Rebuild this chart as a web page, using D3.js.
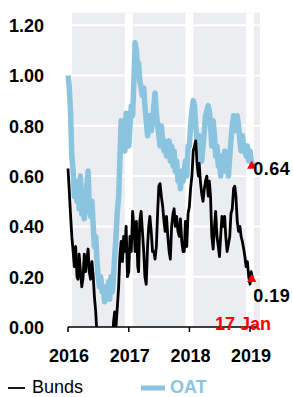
<!doctype html>
<html>

<head>
  <meta charset="utf-8">
  <title>Bunds vs OAT</title>
  <style>
    html,
    body {
      margin: 0;
      padding: 0;
      background: #fff;
    }

    #chart svg {
      display: block;
      font-family: "Liberation Sans", Arial, sans-serif;
    }
  </style>
</head>

<body>
  <div id="chart"></div>
  <script src="https://d3js.org/d3.v7.min.js"></script>
  <script>
    // observation days in each month, last one is 17 Jan 2019
    const obsDays = [1, 8, 16, 24];
    const lastDays = [1, 8, 17];

    // 10y yields, 4 readings per month, Jan 2016 .. Dec 2018, then Jan 2019
    const bunds = [
      0.63, 0.55, 0.45, 0.36, 0.30, 0.24, 0.32, 0.20, 0.19, 0.29, 0.22, 0.16,
      0.20, 0.29, 0.22, 0.27, 0.31, 0.22, 0.19, 0.26, 0.20, 0.12, 0.06, -0.04,
      -0.10, -0.15, -0.05, -0.12, -0.08, -0.12, -0.06, -0.10, -0.06, -0.10, -0.02, -0.08,
      0.02, 0.06, 0.00, 0.08, 0.16, 0.28, 0.34, 0.26, 0.36, 0.30, 0.40, 0.20,
      0.22, 0.36, 0.30, 0.46, 0.40, 0.30, 0.42, 0.24, 0.22, 0.42, 0.46, 0.38,
      0.30, 0.20, 0.17, 0.32, 0.40, 0.44, 0.38, 0.30, 0.30, 0.27, 0.32, 0.46,
      0.56, 0.57, 0.52, 0.48, 0.42, 0.38, 0.44, 0.36, 0.30, 0.27, 0.40, 0.45,
      0.47, 0.40, 0.44, 0.38, 0.36, 0.43, 0.34, 0.30, 0.30, 0.42, 0.32, 0.45,
      0.48, 0.55, 0.60, 0.70, 0.72, 0.74, 0.65, 0.60, 0.65, 0.58, 0.53, 0.50,
      0.55, 0.58, 0.60, 0.52, 0.58, 0.52, 0.36, 0.31, 0.40, 0.46, 0.36, 0.32,
      0.28, 0.36, 0.44, 0.40, 0.44, 0.36, 0.30, 0.33, 0.36, 0.45, 0.47, 0.55,
      0.56, 0.52, 0.42, 0.38, 0.40, 0.36, 0.34, 0.31, 0.28, 0.24, 0.26, 0.20,
      0.17, 0.22, 0.19
    ];

    const oat = [
      1.00, 0.96, 0.86, 0.68, 0.62, 0.52, 0.58, 0.50, 0.55, 0.47, 0.60, 0.45,
      0.50, 0.43, 0.52, 0.57, 0.62, 0.48, 0.44, 0.50, 0.40, 0.32, 0.36, 0.26,
      0.20, 0.16, 0.20, 0.14, 0.16, 0.10, 0.14, 0.12, 0.18, 0.11, 0.20, 0.14,
      0.20, 0.28, 0.36, 0.46, 0.52, 0.66, 0.82, 0.74, 0.78, 0.70, 0.85, 0.72,
      0.72, 0.80, 0.88, 0.84, 0.98, 1.13, 1.10, 1.02, 1.05, 0.98, 0.95, 0.92,
      0.95, 0.88, 0.82, 0.76, 0.80, 0.84, 0.78, 0.82, 0.88, 0.93, 0.85, 0.80,
      0.76, 0.72, 0.80, 0.74, 0.70, 0.74, 0.68, 0.72, 0.74, 0.66, 0.72, 0.64,
      0.70, 0.62, 0.66, 0.58, 0.60, 0.55, 0.62, 0.58, 0.62, 0.66, 0.60, 0.72,
      0.72, 0.80, 0.86, 0.90, 0.88, 0.80, 0.74, 0.70, 0.76, 0.70, 0.66, 0.72,
      0.78, 0.84, 0.86, 0.88, 0.86, 0.80, 0.72, 0.82, 0.76, 0.68, 0.72, 0.64,
      0.66, 0.60, 0.68, 0.64, 0.70, 0.62, 0.66, 0.60, 0.68, 0.74, 0.80, 0.84,
      0.82, 0.78, 0.84, 0.80, 0.74, 0.70, 0.76, 0.72, 0.70, 0.68, 0.72, 0.66,
      0.70, 0.66, 0.64
    ];

    const yTicks = [0, 0.2, 0.4, 0.6, 0.8, 1.0, 1.2];
    const yearTicks = [2016, 2017, 2018, 2019];
    const endLabel = '17 Jan';

    const months = d3.timeMonth.range(new Date(2016, 0, 1), new Date(2019, 0, 1));
    const dates = months
      .flatMap(m => obsDays.map(d => new Date(m.getFullYear(), m.getMonth(), d)))
      .concat(lastDays.map(d => new Date(2019, 0, d)));

    const width = 293;
    const height = 397;

    const svg = d3.select('#chart').append('svg')
      .attr('width', width).attr('height', height);

    const x = d3.scaleTime()
      .domain([new Date(2016, 0, 1), new Date(2019, 2, 2)])
      .range([68, 260]);
    const y = d3.scaleLinear().domain([0, 1.25]).range([327, 12.6]);

    const [x0, x1] = x.range();
    const [yb, yt] = y.range();

    // background panel
    svg.append('rect')
      .attr('x', x0).attr('y', yt)
      .attr('width', x1 - x0).attr('height', yb - yt)
      .style('fill', '#ECEDF1');

    svg.append('clipPath').attr('id', 'plot')
      .append('rect')
      .attr('x', x0 - 3).attr('y', yt)
      .attr('width', x1 - x0 + 3).attr('height', yb - yt);

    const grid = svg.append('g').attr('clip-path', 'url(#plot)');

    // white gridlines: horizontal thin, vertical wide at year starts
    grid.selectAll('.hgrid').data(yTicks.filter(d => d > 0)).join('line')
      .attr('x1', x0).attr('x2', x1)
      .attr('y1', d => y(d)).attr('y2', d => y(d))
      .style('stroke', '#fff').style('stroke-width', 2);

    grid.selectAll('.vgrid').data(yearTicks).join('line')
      .attr('x1', d => x(new Date(d, 0, 1))).attr('x2', d => x(new Date(d, 0, 1)))
      .attr('y1', yt).attr('y2', yb)
      .style('stroke', '#fff').style('stroke-width', 8);

    const line = series => d3.line()
      .x((d, i) => x(dates[i]))
      .y(d => y(d))(series);

    const plot = svg.append('g').attr('clip-path', 'url(#plot)');

    plot.append('path')
      .attr('d', line(oat))
      .style('fill', 'none')
      .style('stroke', '#8BC4DE')
      .style('stroke-width', 5.5)
      .style('stroke-linejoin', 'round');

    plot.append('path')
      .attr('d', line(bunds))
      .style('fill', 'none')
      .style('stroke', '#000')
      .style('stroke-width', 2.8)
      .style('stroke-linejoin', 'round');

    // x axis
    const xAxis = svg.append('g');
    xAxis.append('line')
      .attr('x1', x0).attr('x2', x1 - 2)
      .attr('y1', yb).attr('y2', yb)
      .style('stroke', '#000').style('stroke-width', 1.5);

    xAxis.selectAll('.tick').data(yearTicks).join('line')
      .attr('x1', d => x(new Date(d, 0, 1))).attr('x2', d => x(new Date(d, 0, 1)))
      .attr('y1', yb).attr('y2', yb + 5)
      .style('stroke', '#000').style('stroke-width', 1.5);

    xAxis.selectAll('text').data(yearTicks).join('text')
      .attr('x', d => x(new Date(d, 0, 1)) + 1)
      .attr('y', 362)
      .attr('text-anchor', 'middle')
      .style('font-size', '18px')
      .style('font-weight', 'bold')
      .text(d => d);

    // y labels
    svg.append('g').selectAll('text').data(yTicks).join('text')
      .attr('x', 44)
      .attr('y', d => y(d) + 7)
      .attr('text-anchor', 'end')
      .style('font-size', '18px')
      .style('font-weight', 'bold')
      .text(d => d.toFixed(2));

    // end markers and values
    const last = dates.length - 1;
    const ends = [
      { v: oat[last], dy: 9 },
      { v: bunds[last], dy: 23 }
    ];

    svg.selectAll('.marker').data(ends).join('path')
      .attr('d', d3.symbol().type(d3.symbolTriangle).size(38))
      .attr('transform', d => `translate(${x(dates[last]) - 1},${y(d.v)})`)
      .style('fill', '#FF0000');

    svg.selectAll('.endval').data(ends).join('text')
      .attr('x', x(dates[last]) + 0.5)
      .attr('y', d => y(d.v) + d.dy)
      .style('font-size', '18px')
      .style('font-weight', 'bold')
      .style('letter-spacing', '0.5px')
      .text(d => d.v.toFixed(2));

    svg.append('text')
      .attr('x', 215)
      .attr('y', 330)
      .style('font-size', '18px')
      .style('font-weight', 'bold')
      .style('fill', '#FF0000')
      .text(endLabel);

    // legend
    const legend = svg.append('g');
    legend.append('line')
      .attr('x1', 8).attr('x2', 25).attr('y1', 388).attr('y2', 388)
      .style('stroke', '#000').style('stroke-width', 1.8);
    legend.append('text')
      .attr('x', 32).attr('y', 393)
      .style('font-size', '18px')
      .text('Bunds');
    legend.append('line')
      .attr('x1', 141).attr('x2', 165).attr('y1', 388).attr('y2', 388)
      .style('stroke', '#8BC4DE').style('stroke-width', 5);
    legend.append('text')
      .attr('x', 170).attr('y', 393)
      .style('font-size', '18px')
      .style('font-weight', 'bold')
      .style('fill', '#8BC4DE')
      .text('OAT');
  </script>
</body>

</html>
